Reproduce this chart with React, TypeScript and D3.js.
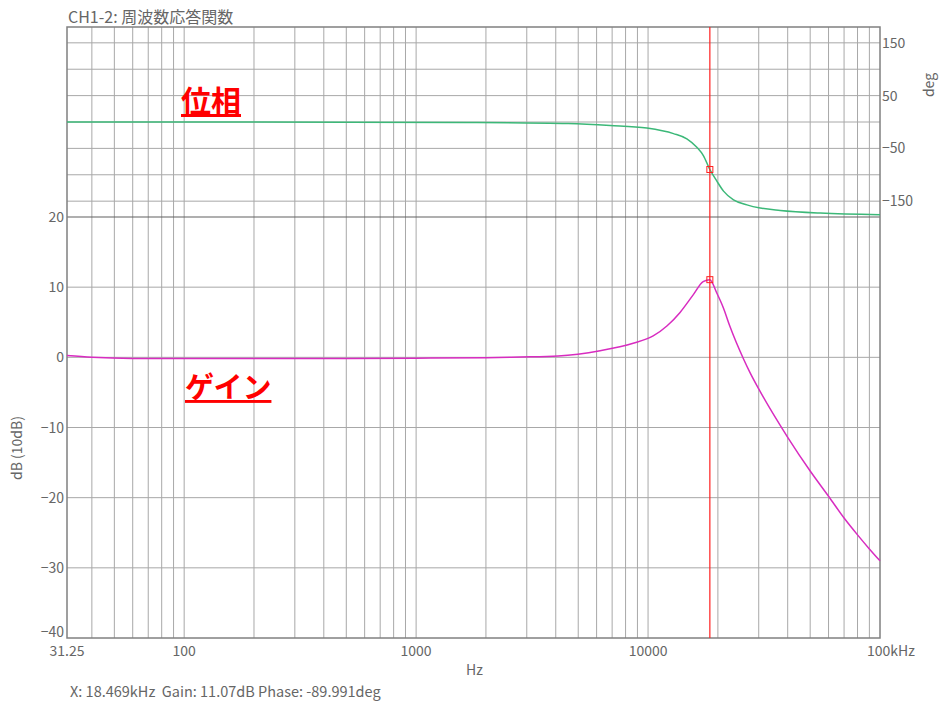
import React from 'react';
import * as d3 from 'd3';

// gain curve (dB)
const gainFreqs = [31.25, 40, 60, 100, 200, 500, 1000, 2000, 2809, 4097, 6215, 8627, 10520, 12090, 13740, 15650, 17280, 18469, 19760, 21150, 22490, 25860, 27450, 30000, 40000, 50000, 60000, 70000, 80000, 90000, 100000];
const gainDb = [0.25, 0.0, -0.15, -0.15, -0.15, -0.15, -0.12, -0.05, 0.05, 0.2, 0.95, 2.0, 3.05, 4.5, 6.4, 8.9, 10.8, 11.07, 9.2, 7.0, 4.5, -0.3, -2.1, -4.5, -11.4, -16.2, -19.8, -22.9, -25.3, -27.3, -29.0];

// phase curve (deg)
const phaseFreqs = [31.25, 500, 1643, 4523, 6865, 9882, 12870, 14700, 16230, 17340, 18469, 19800, 21150, 23360, 26690, 30440, 37140, 55250, 100000];
const phaseDeg = [0, -0.3, -1, -3, -6.5, -11.5, -22, -32, -48, -64, -89.991, -112, -131, -147.5, -157, -163, -167.5, -172.5, -175.6];

const gainTicks = [20, 10, 0, -10, -20, -30, -40];
const phaseTicks = [150, 50, -50, -150];
const phaseGrid = [150, 100, 50, 0, -50, -100, -150];
const freqLabels = [
  { f: 31.25, label: '31.25' },
  { f: 100, label: '100' },
  { f: 1000, label: '1000' },
  { f: 10000, label: '10000' },
];

const cursorFreq = 18469;
const cursorGain = 11.07;
const cursorPhase = -89.991;

const W = 941;
const H = 702;
const left = 67;
const right = 880;
const top = 27;
const bottom = 638;
const divider = 217;

const font = '"Noto Sans CJK JP", "Noto Sans", sans-serif';
const textColor = '#666';

export default function App() {
  const x = d3.scaleLog().domain([31.25, 100000]).range([left, right]);
  const yGain = d3.scaleLinear().domain([-40, 20]).range([bottom, divider]);
  const yPhase = d3.scaleLinear().domain([-180, 180]).range([divider, top]);

  // minor grid: 40..90, 100..900, ...
  const gridFreqs: number[] = [];
  [10, 100, 1000, 10000].forEach((dec) => {
    for (let i = 1; i <= 9; i++) {
      const f = dec * i;
      if (f > 31.25 && f < 100000) gridFreqs.push(f);
    }
  });

  const gainLine = d3
    .line<number>()
    .x((_, i) => x(gainFreqs[i]))
    .y((d) => yGain(d))
    .curve(d3.curveMonotoneX);

  const phaseLine = d3
    .line<number>()
    .x((_, i) => x(phaseFreqs[i]))
    .y((d) => yPhase(d))
    .curve(d3.curveMonotoneX);

  const cx = x(cursorFreq);

  return (
    <svg
      width={W}
      height={H}
      style={{ position: 'absolute', left: 0, top: 0, background: '#fff' }}
      fontFamily={font}
    >
      <text x={68} y={23} fontSize={16} fill={textColor}>
        CH1-2: 周波数応答関数
      </text>

      {/* grid */}
      <g stroke="#a8a8a8" strokeWidth={1}>
        {gridFreqs.map((f) => (
          <line key={f} x1={x(f)} x2={x(f)} y1={top} y2={bottom} />
        ))}
        {phaseGrid.map((p) => (
          <line key={'p' + p} x1={left} x2={right} y1={yPhase(p)} y2={yPhase(p)} />
        ))}
        {gainTicks.filter((g) => g > -40 && g < 20).map((g) => (
          <line key={'g' + g} x1={left} x2={right} y1={yGain(g)} y2={yGain(g)} />
        ))}
      </g>
      <line x1={left} x2={right} y1={divider} y2={divider} stroke="#606060" strokeWidth={1.2} />

      {/* frame */}
      <rect x={left} y={top} width={right - left} height={bottom - top} fill="none" stroke="#808080" strokeWidth={1.5} />

      {/* curves */}
      <path d={phaseLine(phaseDeg) || ''} fill="none" stroke="#3cb878" strokeWidth={1.5} />
      <path d={gainLine(gainDb) || ''} fill="none" stroke="#d82cc0" strokeWidth={1.5} />

      {/* cursor */}
      <line x1={cx} x2={cx} y1={top} y2={bottom} stroke="#ff2020" strokeWidth={1.2} />
      <rect x={cx - 3} y={yGain(cursorGain) - 3} width={6} height={6} fill="none" stroke="#ff2020" strokeWidth={1} />
      <rect x={cx - 3} y={yPhase(cursorPhase) - 3} width={6} height={6} fill="none" stroke="#ff2020" strokeWidth={1} />

      {/* left gain ticks */}
      {gainTicks.map((g) => (
        <text
          key={'gt' + g}
          x={64}
          y={yGain(g) + (g === -40 ? -1 : 5)}
          fontSize={14}
          fill={textColor}
          textAnchor="end"
        >
          {g < 0 ? '\u2212' + Math.abs(g) : g}
        </text>
      ))}

      {/* right phase ticks */}
      {phaseTicks.map((p) => (
        <text key={'pt' + p} x={882} y={yPhase(p) + 5} fontSize={14} fill={textColor}>
          {p < 0 ? '\u2212' + Math.abs(p) : p}
        </text>
      ))}

      {/* x labels */}
      {freqLabels.map((d) => (
        <text key={d.label} x={x(d.f)} y={656} fontSize={14} fill={textColor} textAnchor="middle">
          {d.label}
        </text>
      ))}
      <text x={x(100000) - 13} y={656} fontSize={14} fill={textColor}>
        100kHz
      </text>
      <text x={466} y={675} fontSize={14} fill={textColor}>
        Hz
      </text>

      {/* axis titles */}
      <text
        transform="translate(22,448) rotate(-90)"
        fontSize={14}
        fill={textColor}
        textAnchor="middle"
      >
        dB (10dB)
      </text>
      <text transform="translate(934,85) rotate(-90)" fontSize={14} fill={textColor} textAnchor="middle">
        deg
      </text>

      {/* annotations */}
      <text x={181} y={112} fontSize={30} fontWeight="bold" fill="#ff0000" textDecoration="underline">
        位相
      </text>
      <text x={185} y={398} fontSize={29} fontWeight="bold" fill="#ff0000" textDecoration="underline">
        ゲイン
      </text>

      <text x={70} y={697} fontSize={14.5} fill={textColor} xmlSpace="preserve">
        X: 18.469kHz  Gain: 11.07dB Phase: -89.991deg
      </text>
    </svg>
  );
}
